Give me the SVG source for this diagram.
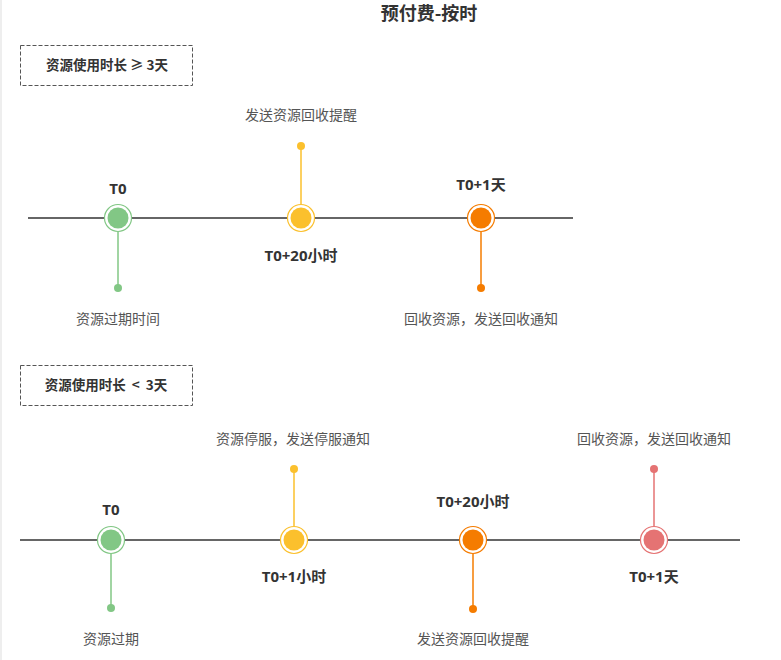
<svg xmlns="http://www.w3.org/2000/svg" width="781" height="660" viewBox="0 0 781 660">
<style>
.t{font-family:"Noto Sans CJK SC","Noto Sans",sans-serif;}
.b{font-family:"Open Sans","Noto Sans CJK SC",sans-serif;font-weight:bold;fill:#333;font-size:15px;text-anchor:middle;}
.n{fill:#555;font-size:14px;text-anchor:middle;}
.h{font-weight:bold;fill:#333;font-size:13.5px;text-anchor:middle;}
.axis{stroke:#666;stroke-width:2;}
.box{fill:none;stroke:#555;stroke-dasharray:4 2;stroke-width:1;}
</style>
<rect width="781" height="660" fill="#fff"/>
<line x1="1" y1="0" x2="1" y2="660" stroke="#ddd" stroke-width="1"/>
<text class="t" x="429" y="20" font-size="18" font-weight="bold" fill="#333" text-anchor="middle">预付费-按时</text>
<g id="box1"><rect class="box" x="20.5" y="45.5" width="172" height="40"/><text class="t h" x="107" y="70">资源使用时长 ≥ 3天</text></g>
<g id="box2"><rect class="box" x="20.5" y="365.5" width="172" height="40"/><text class="t h" x="106" y="390" xml:space="preserve">资源使用时长  &lt;  3天</text></g>
<g id="connectors">
<line class="axis" x1="28" y1="218" x2="573" y2="218"/>
<line class="axis" x1="20" y1="540" x2="740" y2="540"/>
<line x1="118" y1="232" x2="118" y2="288" stroke="#82C785" stroke-width="1.5"/>
<line x1="301" y1="204" x2="301" y2="146" stroke="#FBC02D" stroke-width="1.5"/>
<line x1="481" y1="232" x2="481" y2="288" stroke="#F57C00" stroke-width="1.5"/>
<line x1="111" y1="554" x2="111" y2="608" stroke="#82C785" stroke-width="1.5"/>
<line x1="294" y1="526" x2="294" y2="469" stroke="#FBC02D" stroke-width="1.5"/>
<line x1="473" y1="554" x2="473" y2="609" stroke="#F57C00" stroke-width="1.5"/>
<line x1="654" y1="526" x2="654" y2="469" stroke="#E57373" stroke-width="1.5"/>
</g>
<g id="a1"><circle cx="118" cy="218" r="13.5" fill="#fff" stroke="#82C785" stroke-width="1.2"/><circle cx="118" cy="218" r="10.5" fill="#82C785"/><circle cx="118" cy="288" r="4" fill="#82C785"/><text class="b" x="118" y="194">T0</text><text class="t n" x="118" y="324">资源过期时间</text></g>
<g id="a2"><circle cx="301" cy="218" r="13.5" fill="#fff" stroke="#FBC02D" stroke-width="1.2"/><circle cx="301" cy="218" r="10.5" fill="#FBC02D"/><circle cx="301" cy="146" r="4" fill="#FBC02D"/><text class="t n" x="301" y="120">发送资源回收提醒</text><text class="b" x="301" y="261">T0+20小时</text></g>
<g id="a3"><circle cx="481" cy="218" r="13.5" fill="#fff" stroke="#F57C00" stroke-width="1.2"/><circle cx="481" cy="218" r="10.5" fill="#F57C00"/><circle cx="481" cy="288" r="4" fill="#F57C00"/><text class="b" x="481" y="190">T0+1天</text><text class="t n" x="481" y="324">回收资源，发送回收通知</text></g>
<g id="b1"><circle cx="111" cy="540" r="13.5" fill="#fff" stroke="#82C785" stroke-width="1.2"/><circle cx="111" cy="540" r="10.5" fill="#82C785"/><circle cx="111" cy="608" r="4" fill="#82C785"/><text class="b" x="111" y="515">T0</text><text class="t n" x="111" y="644">资源过期</text></g>
<g id="b2"><circle cx="294" cy="540" r="13.5" fill="#fff" stroke="#FBC02D" stroke-width="1.2"/><circle cx="294" cy="540" r="10.5" fill="#FBC02D"/><circle cx="294" cy="469" r="4" fill="#FBC02D"/><text class="t n" x="293" y="444">资源停服，发送停服通知</text><text class="b" x="294" y="582">T0+1小时</text></g>
<g id="b3"><circle cx="473" cy="540" r="13.5" fill="#fff" stroke="#F57C00" stroke-width="1.2"/><circle cx="473" cy="540" r="10.5" fill="#F57C00"/><circle cx="473" cy="609" r="4" fill="#F57C00"/><text class="b" x="473" y="507">T0+20小时</text><text class="t n" x="473" y="644">发送资源回收提醒</text></g>
<g id="b4"><circle cx="654" cy="540" r="13.5" fill="#fff" stroke="#E57373" stroke-width="1.2"/><circle cx="654" cy="540" r="10.5" fill="#E57373"/><circle cx="654" cy="469" r="4" fill="#E57373"/><text class="t n" x="654" y="444">回收资源，发送回收通知</text><text class="b" x="654" y="582">T0+1天</text></g>
</svg>
